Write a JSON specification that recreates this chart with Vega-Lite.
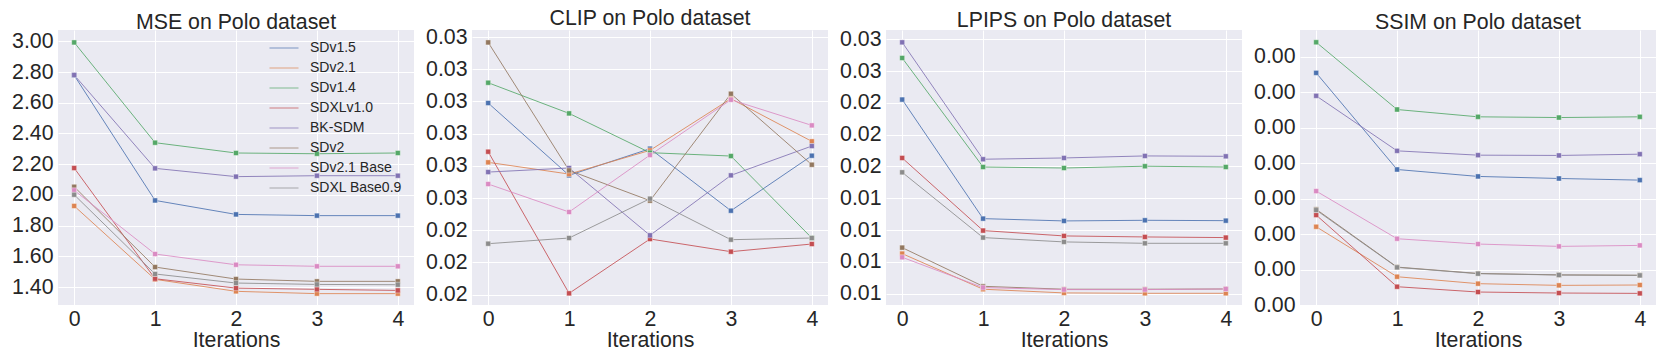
{
  "$schema": "https://vega.github.io/schema/vega-lite/v6.json",
  "padding": {"left": 11, "top": 7, "right": 0, "bottom": 0},
  "background": "white",
  "spacing": 11,
  "config": {
    "font": "Liberation Sans",
    "view": {"stroke": null, "fill": "#EAEAF2"},
    "axis": {
      "domain": false, "ticks": false, "gridColor": "white", "gridWidth": 1,
      "labelColor": "#262626", "titleColor": "#262626",
      "labelFont": "Liberation Sans", "titleFont": "Liberation Sans",
      "labelFontSize": 21.3, "titleFontSize": 21.3, "titleFontWeight": "normal"
    },
    "title": {"font": "Liberation Sans", "fontSize": 21.3, "fontWeight": "normal", "color": "#262626", "baseline": "alphabetic", "offset": -3, "anchor": "middle"},
    "legend": {"labelFont": "Liberation Sans"}
  },
  "resolve": {"legend": {"color": "independent"}},
  "data": {"values": [
    {"m":"MSE","model":"SDv1.5","it":0,"v":2.779},{"m":"MSE","model":"SDv1.5","it":1,"v":1.964},{"m":"MSE","model":"SDv1.5","it":2,"v":1.873},{"m":"MSE","model":"SDv1.5","it":3,"v":1.865},{"m":"MSE","model":"SDv1.5","it":4,"v":1.865},
    {"m":"MSE","model":"SDv2.1","it":0,"v":1.928},{"m":"MSE","model":"SDv2.1","it":1,"v":1.450},{"m":"MSE","model":"SDv2.1","it":2,"v":1.372},{"m":"MSE","model":"SDv2.1","it":3,"v":1.357},{"m":"MSE","model":"SDv2.1","it":4,"v":1.357},
    {"m":"MSE","model":"SDv1.4","it":0,"v":2.993},{"m":"MSE","model":"SDv1.4","it":1,"v":2.340},{"m":"MSE","model":"SDv1.4","it":2,"v":2.273},{"m":"MSE","model":"SDv1.4","it":3,"v":2.268},{"m":"MSE","model":"SDv1.4","it":4,"v":2.273},
    {"m":"MSE","model":"SDXLv1.0","it":0,"v":2.175},{"m":"MSE","model":"SDXLv1.0","it":1,"v":1.454},{"m":"MSE","model":"SDXLv1.0","it":2,"v":1.393},{"m":"MSE","model":"SDXLv1.0","it":3,"v":1.385},{"m":"MSE","model":"SDXLv1.0","it":4,"v":1.378},
    {"m":"MSE","model":"BK-SDM","it":0,"v":2.781},{"m":"MSE","model":"BK-SDM","it":1,"v":2.173},{"m":"MSE","model":"BK-SDM","it":2,"v":2.119},{"m":"MSE","model":"BK-SDM","it":3,"v":2.125},{"m":"MSE","model":"BK-SDM","it":4,"v":2.125},
    {"m":"MSE","model":"SDv2","it":0,"v":2.053},{"m":"MSE","model":"SDv2","it":1,"v":1.530},{"m":"MSE","model":"SDv2","it":2,"v":1.452},{"m":"MSE","model":"SDv2","it":3,"v":1.437},{"m":"MSE","model":"SDv2","it":4,"v":1.437},
    {"m":"MSE","model":"SDv2.1 Base","it":0,"v":2.030},{"m":"MSE","model":"SDv2.1 Base","it":1,"v":1.615},{"m":"MSE","model":"SDv2.1 Base","it":2,"v":1.545},{"m":"MSE","model":"SDv2.1 Base","it":3,"v":1.535},{"m":"MSE","model":"SDv2.1 Base","it":4,"v":1.535},
    {"m":"MSE","model":"SDXL Base0.9","it":0,"v":2.001},{"m":"MSE","model":"SDXL Base0.9","it":1,"v":1.485},{"m":"MSE","model":"SDXL Base0.9","it":2,"v":1.426},{"m":"MSE","model":"SDXL Base0.9","it":3,"v":1.417},{"m":"MSE","model":"SDXL Base0.9","it":4,"v":1.415},

    {"m":"CLIP","model":"SDv1.5","it":0,"v":0.026476},{"m":"CLIP","model":"SDv1.5","it":1,"v":0.025353},{"m":"CLIP","model":"SDv1.5","it":2,"v":0.025767},{"m":"CLIP","model":"SDv1.5","it":3,"v":0.024804},{"m":"CLIP","model":"SDv1.5","it":4,"v":0.025658},
    {"m":"CLIP","model":"SDv2.1","it":0,"v":0.025555},{"m":"CLIP","model":"SDv2.1","it":1,"v":0.025373},{"m":"CLIP","model":"SDv2.1","it":2,"v":0.025741},{"m":"CLIP","model":"SDv2.1","it":3,"v":0.026543},{"m":"CLIP","model":"SDv2.1","it":4,"v":0.025881},
    {"m":"CLIP","model":"SDv1.4","it":0,"v":0.026791},{"m":"CLIP","model":"SDv1.4","it":1,"v":0.026315},{"m":"CLIP","model":"SDv1.4","it":2,"v":0.025705},{"m":"CLIP","model":"SDv1.4","it":3,"v":0.025653},{"m":"CLIP","model":"SDv1.4","it":4,"v":0.024380},
    {"m":"CLIP","model":"SDXLv1.0","it":0,"v":0.025720},{"m":"CLIP","model":"SDXLv1.0","it":1,"v":0.023521},{"m":"CLIP","model":"SDXLv1.0","it":2,"v":0.024365},{"m":"CLIP","model":"SDXLv1.0","it":3,"v":0.024168},{"m":"CLIP","model":"SDXLv1.0","it":4,"v":0.024287},
    {"m":"CLIP","model":"BK-SDM","it":0,"v":0.025404},{"m":"CLIP","model":"BK-SDM","it":1,"v":0.025467},{"m":"CLIP","model":"BK-SDM","it":2,"v":0.024422},{"m":"CLIP","model":"BK-SDM","it":3,"v":0.025353},{"m":"CLIP","model":"BK-SDM","it":4,"v":0.025808},
    {"m":"CLIP","model":"SDv2","it":0,"v":0.027417},{"m":"CLIP","model":"SDv2","it":1,"v":0.025430},{"m":"CLIP","model":"SDv2","it":2,"v":0.024960},{"m":"CLIP","model":"SDv2","it":3,"v":0.026620},{"m":"CLIP","model":"SDv2","it":4,"v":0.025518},
    {"m":"CLIP","model":"SDv2.1 Base","it":0,"v":0.025218},{"m":"CLIP","model":"SDv2.1 Base","it":1,"v":0.024784},{"m":"CLIP","model":"SDv2.1 Base","it":2,"v":0.025668},{"m":"CLIP","model":"SDv2.1 Base","it":3,"v":0.026527},{"m":"CLIP","model":"SDv2.1 Base","it":4,"v":0.026129},
    {"m":"CLIP","model":"SDXL Base0.9","it":0,"v":0.024292},{"m":"CLIP","model":"SDXL Base0.9","it":1,"v":0.024380},{"m":"CLIP","model":"SDXL Base0.9","it":2,"v":0.024991},{"m":"CLIP","model":"SDXL Base0.9","it":3,"v":0.024354},{"m":"CLIP","model":"SDXL Base0.9","it":4,"v":0.024380},

    {"m":"LPIPS","model":"SDv1.5","it":0,"v":0.02276},{"m":"LPIPS","model":"SDv1.5","it":1,"v":0.01340},{"m":"LPIPS","model":"SDv1.5","it":2,"v":0.01322},{"m":"LPIPS","model":"SDv1.5","it":3,"v":0.01327},{"m":"LPIPS","model":"SDv1.5","it":4,"v":0.01324},
    {"m":"LPIPS","model":"SDv2.1","it":0,"v":0.01065},{"m":"LPIPS","model":"SDv2.1","it":1,"v":0.00785},{"m":"LPIPS","model":"SDv2.1","it":2,"v":0.00756},{"m":"LPIPS","model":"SDv2.1","it":3,"v":0.00753},{"m":"LPIPS","model":"SDv2.1","it":4,"v":0.00753},
    {"m":"LPIPS","model":"SDv1.4","it":0,"v":0.02603},{"m":"LPIPS","model":"SDv1.4","it":1,"v":0.01746},{"m":"LPIPS","model":"SDv1.4","it":2,"v":0.01738},{"m":"LPIPS","model":"SDv1.4","it":3,"v":0.01752},{"m":"LPIPS","model":"SDv1.4","it":4,"v":0.01746},
    {"m":"LPIPS","model":"SDXLv1.0","it":0,"v":0.01817},{"m":"LPIPS","model":"SDXLv1.0","it":1,"v":0.01246},{"m":"LPIPS","model":"SDXLv1.0","it":2,"v":0.01204},{"m":"LPIPS","model":"SDXLv1.0","it":3,"v":0.01196},{"m":"LPIPS","model":"SDXLv1.0","it":4,"v":0.01191},
    {"m":"LPIPS","model":"BK-SDM","it":0,"v":0.02726},{"m":"LPIPS","model":"BK-SDM","it":1,"v":0.01807},{"m":"LPIPS","model":"BK-SDM","it":2,"v":0.01817},{"m":"LPIPS","model":"BK-SDM","it":3,"v":0.01833},{"m":"LPIPS","model":"BK-SDM","it":4,"v":0.01830},
    {"m":"LPIPS","model":"SDv2","it":0,"v":0.01112},{"m":"LPIPS","model":"SDv2","it":1,"v":0.00808},{"m":"LPIPS","model":"SDv2","it":2,"v":0.00785},{"m":"LPIPS","model":"SDv2","it":3,"v":0.00785},{"m":"LPIPS","model":"SDv2","it":4,"v":0.00787},
    {"m":"LPIPS","model":"SDv2.1 Base","it":0,"v":0.01036},{"m":"LPIPS","model":"SDv2.1 Base","it":1,"v":0.00798},{"m":"LPIPS","model":"SDv2.1 Base","it":2,"v":0.00782},{"m":"LPIPS","model":"SDv2.1 Base","it":3,"v":0.00782},{"m":"LPIPS","model":"SDv2.1 Base","it":4,"v":0.00787},
    {"m":"LPIPS","model":"SDXL Base0.9","it":0,"v":0.01704},{"m":"LPIPS","model":"SDXL Base0.9","it":1,"v":0.01191},{"m":"LPIPS","model":"SDXL Base0.9","it":2,"v":0.01157},{"m":"LPIPS","model":"SDXL Base0.9","it":3,"v":0.01146},{"m":"LPIPS","model":"SDXL Base0.9","it":4,"v":0.01146},

    {"m":"SSIM","model":"SDv1.5","it":0,"v":0.003275},{"m":"SSIM","model":"SDv1.5","it":1,"v":0.001912},{"m":"SSIM","model":"SDv1.5","it":2,"v":0.001814},{"m":"SSIM","model":"SDv1.5","it":3,"v":0.001785},{"m":"SSIM","model":"SDv1.5","it":4,"v":0.001762},
    {"m":"SSIM","model":"SDv2.1","it":0,"v":0.001104},{"m":"SSIM","model":"SDv2.1","it":1,"v":0.000399},{"m":"SSIM","model":"SDv2.1","it":2,"v":0.000301},{"m":"SSIM","model":"SDv2.1","it":3,"v":0.000277},{"m":"SSIM","model":"SDv2.1","it":4,"v":0.000282},
    {"m":"SSIM","model":"SDv1.4","it":0,"v":0.003707},{"m":"SSIM","model":"SDv1.4","it":1,"v":0.002758},{"m":"SSIM","model":"SDv1.4","it":2,"v":0.002655},{"m":"SSIM","model":"SDv1.4","it":3,"v":0.002645},{"m":"SSIM","model":"SDv1.4","it":4,"v":0.002655},
    {"m":"SSIM","model":"SDXLv1.0","it":0,"v":0.001269},{"m":"SSIM","model":"SDXLv1.0","it":1,"v":0.000258},{"m":"SSIM","model":"SDXLv1.0","it":2,"v":0.000183},{"m":"SSIM","model":"SDXLv1.0","it":3,"v":0.000169},{"m":"SSIM","model":"SDXLv1.0","it":4,"v":0.000164},
    {"m":"SSIM","model":"BK-SDM","it":0,"v":0.002951},{"m":"SSIM","model":"BK-SDM","it":1,"v":0.002175},{"m":"SSIM","model":"BK-SDM","it":2,"v":0.002114},{"m":"SSIM","model":"BK-SDM","it":3,"v":0.002110},{"m":"SSIM","model":"BK-SDM","it":4,"v":0.002128},
    {"m":"SSIM","model":"SDv2","it":0,"v":0.001350},{"m":"SSIM","model":"SDv2","it":1,"v":0.000535},{"m":"SSIM","model":"SDv2","it":2,"v":0.000445},{"m":"SSIM","model":"SDv2","it":3,"v":0.000425},{"m":"SSIM","model":"SDv2","it":4,"v":0.000420},
    {"m":"SSIM","model":"SDv2.1 Base","it":0,"v":0.001607},{"m":"SSIM","model":"SDv2.1 Base","it":1,"v":0.000935},{"m":"SSIM","model":"SDv2.1 Base","it":2,"v":0.000860},{"m":"SSIM","model":"SDv2.1 Base","it":3,"v":0.000827},{"m":"SSIM","model":"SDv2.1 Base","it":4,"v":0.000841},
    {"m":"SSIM","model":"SDXL Base0.9","it":0,"v":0.001339},{"m":"SSIM","model":"SDXL Base0.9","it":1,"v":0.000531},{"m":"SSIM","model":"SDXL Base0.9","it":2,"v":0.000442},{"m":"SSIM","model":"SDXL Base0.9","it":3,"v":0.000423},{"m":"SSIM","model":"SDXL Base0.9","it":4,"v":0.000418}
  ]},
  "hconcat": [
    {
      "width": 356, "height": 275,
      "title": "MSE on Polo dataset",
      "transform": [{"filter": "datum.m === 'MSE'"}],
      "encoding": {
        "x": {"field": "it", "type": "quantitative", "scale": {"domain": [-0.2, 4.2], "nice": false, "zero": false}, "axis": {"values": [0,1,2,3,4], "format": "d", "title": "Iterations", "labelPadding": 3, "titlePadding": 0}},
        "y": {"field": "v", "type": "quantitative", "scale": {"domain": [1.283, 3.074], "nice": false, "zero": false}, "axis": {"values": [1.4,1.6,1.8,2.0,2.2,2.4,2.6,2.8,3.0], "format": ".2f", "title": null, "labelPadding": 5}},
        "color": {"field": "model", "type": "nominal",
          "scale": {"domain": ["SDv1.5","SDv2.1","SDv1.4","SDXLv1.0","BK-SDM","SDv2","SDv2.1 Base","SDXL Base0.9"], "range": ["#4C72B0","#DD8452","#55A868","#C44E52","#8172B3","#937860","#DA8BC3","#8C8C8C"]},
          "legend": {"title": null, "orient": "none", "legendX": 211, "legendY": 8, "symbolType": "stroke", "symbolSize": 841, "symbolStrokeWidth": 1, "symbolOpacity": 0.7, "labelFontSize": 14, "labelColor": "#262626", "labelOffset": 11, "clipHeight": 20, "rowPadding": 0}
        }
      },
      "layer": [
        {"mark": {"type": "line", "strokeWidth": 1, "opacity": 0.85}},
        {"mark": {"type": "point", "shape": "square", "filled": true, "size": 25, "opacity": 1, "stroke": "white", "strokeWidth": 0.4}}
      ]
    },
    {
      "width": 356, "height": 275,
      "title": "CLIP on Polo dataset",
      "transform": [{"filter": "datum.m === 'CLIP'"}],
      "encoding": {
        "x": {"field": "it", "type": "quantitative", "scale": {"domain": [-0.2, 4.2], "nice": false, "zero": false}, "axis": {"values": [0,1,2,3,4], "format": "d", "title": "Iterations", "labelPadding": 3, "titlePadding": 0}},
        "y": {"field": "v", "type": "quantitative", "scale": {"domain": [0.02334, 0.02761], "nice": false, "zero": false}, "axis": {"values": [0.0235,0.024,0.0245,0.025,0.0255,0.026,0.0265,0.027,0.0275], "format": ".2f", "title": null, "labelPadding": 5}},
        "color": {"field": "model", "type": "nominal",
          "scale": {"domain": ["SDv1.5","SDv2.1","SDv1.4","SDXLv1.0","BK-SDM","SDv2","SDv2.1 Base","SDXL Base0.9"], "range": ["#4C72B0","#DD8452","#55A868","#C44E52","#8172B3","#937860","#DA8BC3","#8C8C8C"]},
          "legend": null}
      },
      "layer": [
        {"mark": {"type": "line", "strokeWidth": 1, "opacity": 0.85}},
        {"mark": {"type": "point", "shape": "square", "filled": true, "size": 25, "opacity": 1, "stroke": "white", "strokeWidth": 0.4}}
      ]
    },
    {
      "width": 356, "height": 275,
      "title": "LPIPS on Polo dataset",
      "transform": [{"filter": "datum.m === 'LPIPS'"}],
      "encoding": {
        "x": {"field": "it", "type": "quantitative", "scale": {"domain": [-0.2, 4.2], "nice": false, "zero": false}, "axis": {"values": [0,1,2,3,4], "format": "d", "title": "Iterations", "labelPadding": 3, "titlePadding": 0}},
        "y": {"field": "v", "type": "quantitative", "scale": {"domain": [0.00661, 0.02823], "nice": false, "zero": false}, "axis": {"values": [0.0075,0.01,0.0125,0.015,0.0175,0.02,0.0225,0.025,0.0275], "format": ".2f", "title": null, "labelPadding": 5}},
        "color": {"field": "model", "type": "nominal",
          "scale": {"domain": ["SDv1.5","SDv2.1","SDv1.4","SDXLv1.0","BK-SDM","SDv2","SDv2.1 Base","SDXL Base0.9"], "range": ["#4C72B0","#DD8452","#55A868","#C44E52","#8172B3","#937860","#DA8BC3","#8C8C8C"]},
          "legend": null}
      },
      "layer": [
        {"mark": {"type": "line", "strokeWidth": 1, "opacity": 0.85}},
        {"mark": {"type": "point", "shape": "square", "filled": true, "size": 25, "opacity": 1, "stroke": "white", "strokeWidth": 0.4}}
      ]
    },
    {
      "width": 356, "height": 275,
      "title": "SSIM on Polo dataset",
      "transform": [{"filter": "datum.m === 'SSIM'"}],
      "encoding": {
        "x": {"field": "it", "type": "quantitative", "scale": {"domain": [-0.2, 4.2], "nice": false, "zero": false}, "axis": {"values": [0,1,2,3,4], "format": "d", "title": "Iterations", "labelPadding": 3, "titlePadding": 0}},
        "y": {"field": "v", "type": "quantitative", "scale": {"domain": [0, 0.00388], "nice": false, "zero": false}, "axis": {"values": [0,0.0005,0.001,0.0015,0.002,0.0025,0.003,0.0035], "format": ".2f", "title": null, "labelPadding": 5}},
        "color": {"field": "model", "type": "nominal",
          "scale": {"domain": ["SDv1.5","SDv2.1","SDv1.4","SDXLv1.0","BK-SDM","SDv2","SDv2.1 Base","SDXL Base0.9"], "range": ["#4C72B0","#DD8452","#55A868","#C44E52","#8172B3","#937860","#DA8BC3","#8C8C8C"]},
          "legend": null}
      },
      "layer": [
        {"mark": {"type": "line", "strokeWidth": 1, "opacity": 0.85}},
        {"mark": {"type": "point", "shape": "square", "filled": true, "size": 25, "opacity": 1, "stroke": "white", "strokeWidth": 0.4}}
      ]
    }
  ]
}
